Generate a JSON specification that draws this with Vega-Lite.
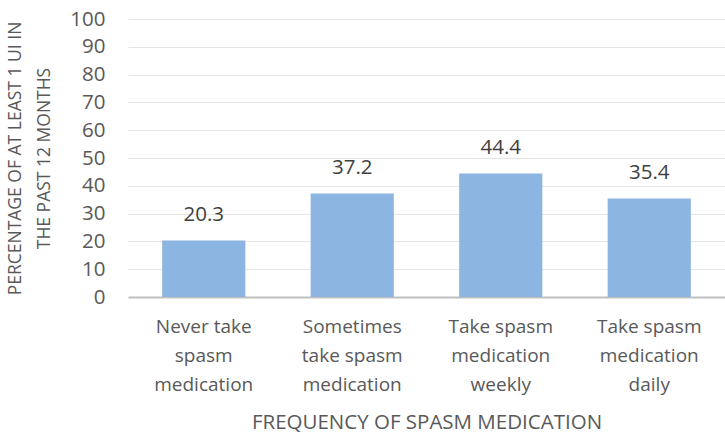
{
  "$schema": "https://vega.github.io/schema/vega-lite/v6.json",
  "autosize": {"type": "fit", "contains": "padding"},
  "width": 725,
  "height": 435,
  "padding": {"left": 6, "top": 9, "right": 0, "bottom": 2},
  "config": {
    "view": {"stroke": null},
    "font": "Open Sans",
    "axis": {"labelFont": "Open Sans", "titleFont": "Open Sans", "labelColor": "#595959", "titleColor": "#595959", "titleFontWeight": "normal"}
  },
  "data": {
    "values": [
      {"category": "Never take spasm medication", "pct": 20.3},
      {"category": "Sometimes take spasm medication", "pct": 37.2},
      {"category": "Take spasm medication weekly", "pct": 44.4},
      {"category": "Take spasm medication daily", "pct": 35.4}
    ]
  },
  "encoding": {
    "x": {
      "field": "category", "type": "nominal", "sort": null,
      "scale": {"paddingInner": 0.44, "paddingOuter": 0.23},
      "axis": {
        "title": "FREQUENCY OF SPASM MEDICATION",
        "titleFontSize": 20.5, "titlePadding": 18,
        "labelAngle": 0, "labelFontSize": 19, "labelPadding": 20, "labelLineHeight": 29,
        "labelExpr": "datum.label == 'Never take spasm medication' ? ['Never take','spasm','medication'] : datum.label == 'Sometimes take spasm medication' ? ['Sometimes','take spasm','medication'] : datum.label == 'Take spasm medication weekly' ? ['Take spasm','medication','weekly'] : ['Take spasm','medication','daily']",
        "ticks": false, "domainColor": "#bfbfbf", "domainWidth": 2, "grid": false
      }
    },
    "y": {
      "field": "pct", "type": "quantitative",
      "scale": {"domain": [0, 100]},
      "axis": {
        "title": ["PERCENTAGE OF AT LEAST 1 UI IN", "THE PAST 12 MONTHS"],
        "titleFontSize": 17.5, "titleLineHeight": 29, "titlePadding": 16,
        "values": [0,10,20,30,40,50,60,70,80,90,100],
        "labelFontSize": 20.5, "labelPadding": 23,
        "domain": false, "ticks": false,
        "grid": true, "gridColor": "#e6e6e6", "gridWidth": 1
      }
    }
  },
  "layer": [
    {"mark": {"type": "bar", "color": "#8cb6e1"}},
    {"mark": {"type": "text", "dy": -26, "fontSize": 20.5, "color": "#404040", "font": "Open Sans"},
     "encoding": {"text": {"field": "pct", "type": "quantitative", "format": ".1f"}}}
  ]
}
